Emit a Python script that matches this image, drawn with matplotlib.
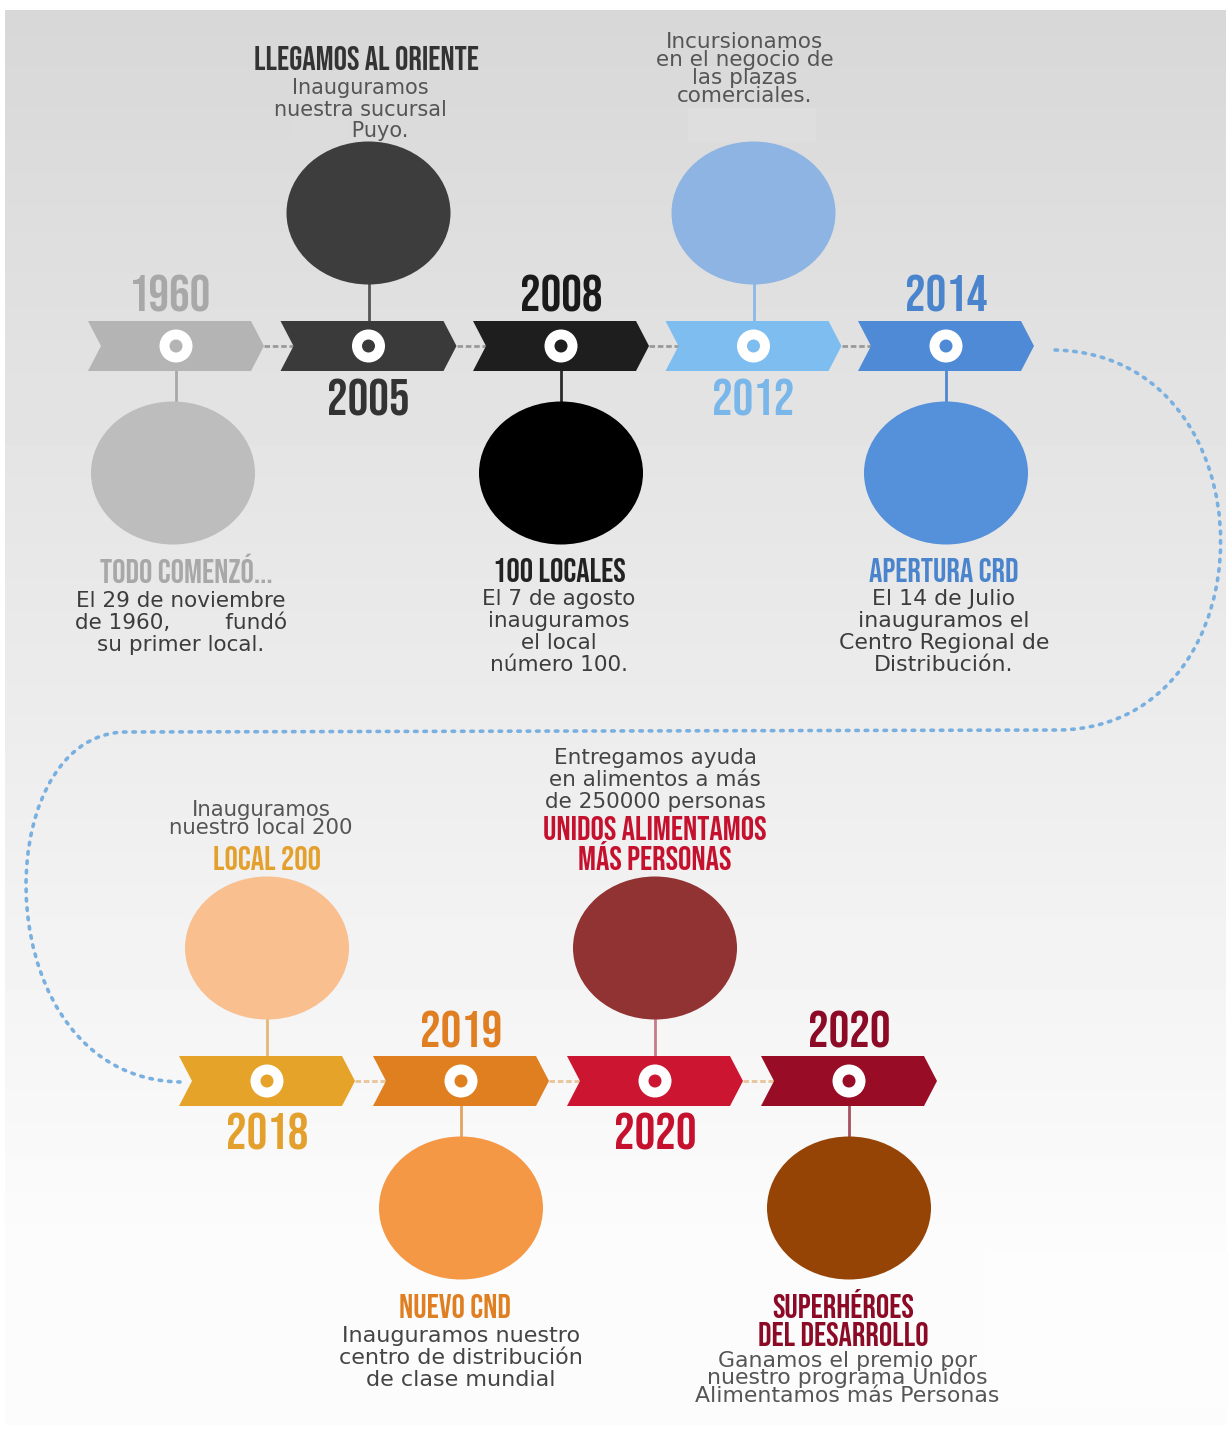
import matplotlib
matplotlib.use("Agg")
import matplotlib.pyplot as plt
import numpy as np
from matplotlib import font_manager
from matplotlib.patches import Polygon, Circle, Ellipse, Rectangle, PathPatch
from matplotlib.path import Path

# --- data -------------------------------------------------------------
row1_years = ["1960", "2005", "2008", "2012", "2014"]
row1_colors = ["#b4b4b4", "#3a3a3a", "#1e1e1e", "#7dbdf0", "#4f8ad6"]
row1_year_colors = ["#a8a8a8", "#333333", "#1a1a1a", "#79b6ea", "#4a84cc"]
row1_circle_colors = ["#bdbdbd", "#3d3d3d", "#000000", "#8db4e3", "#5590da"]
row1_stem_colors = ["#a8a8a8", "#555555", "#2a2a2a", "#8ab8e8", "#4f86cf"]
row1_up = [False, True, False, True, False]
row1_titles = ["TODO COMENZÓ...", "LLEGAMOS AL ORIENTE", "100 LOCALES", "", "APERTURA CRD"]
row1_title_colors = ["#a8a8a8", "#333333", "#222222", "#333333", "#4a84cc"]
row1_bodies = [
    "El 29 de noviembre\nde 1960,        fundó\nsu primer local.",
    "Inauguramos\nnuestra sucursal\n      Puyo.",
    "El 7 de agosto\ninauguramos\nel local\nnúmero 100.",
    "Incursionamos\nen el negocio de\nlas plazas\ncomerciales.",
    "El 14 de Julio\ninauguramos el\nCentro Regional de\nDistribución.",
]

row2_years = ["2018", "2019", "2020", "2020"]
row2_colors = ["#e6a32a", "#e07f20", "#cc1530", "#980c26"]
row2_year_colors = ["#e3a02c", "#e07e22", "#c5102e", "#8c0a26"]
row2_circle_colors = ["#f9bf8f", "#f49845", "#923333", "#964406"]
row2_stem_colors = ["#e2b87a", "#e2a460", "#c97a86", "#a85060"]
row2_up = [True, False, True, False]
row2_titles = ["LOCAL 200", "NUEVO CND", "UNIDOS ALIMENTAMOS\nMÁS PERSONAS", "SUPERHÉROES\nDEL DESARROLLO"]
row2_title_colors = ["#e3a02c", "#e07e22", "#c5102e", "#8c0a26"]
row2_bodies = [
    "Inauguramos\nnuestro local 200",
    "Inauguramos nuestro\ncentro de distribución\nde clase mundial",
    "Entregamos ayuda\nen alimentos a más\nde 250000 personas",
    "Ganamos el premio por\nnuestro programa Unidos\nAlimentamos más Personas",
]

# --- fonts ------------------------------------------------------------
available = {f.name for f in font_manager.fontManager.ttflist}
HEAD = "DejaVu Sans"
for cand in ["Bebas Neue", "Oswald", "Roboto Condensed", "Liberation Sans Narrow"]:
    if cand in available:
        HEAD = cand
        break
BODY = "DejaVu Sans"

W, H = 1229, 1432
fig = plt.figure(figsize=(W / 100, H / 100), dpi=100)
ax = fig.add_axes([0, 0, 1, 1])
ax.set_xlim(0, W)
ax.set_ylim(H, 0)
ax.axis("off")

# background gradient
grad = np.linspace(0.845, 0.985, 256)
grad = np.clip(np.concatenate([grad, np.full(40, 0.985)]), 0, 1)[:, None]
ax.imshow(np.repeat(grad, 2, axis=1), cmap="gray", vmin=0, vmax=1, aspect="auto",
          extent=[5, W - 3, 1425, 10], zorder=0)

# blanked patches
ax.add_patch(Rectangle((290, 121), 56, 20, color="#dcdcdc", lw=0, zorder=1))
ax.add_patch(Rectangle((688, 108), 128, 34, color="#dedede", lw=0, zorder=1))
ax.add_patch(Rectangle((985, 1250), 244, 158, color="#fdfdfd", lw=0, zorder=1))

# dotted connector between rows
verts = [(1055, 350), (1275, 355), (1275, 725), (1060, 730),
         (125, 732),
         (-15, 735), (-15, 1078), (180, 1082)]
codes = [Path.MOVETO, Path.CURVE4, Path.CURVE4, Path.CURVE4,
         Path.LINETO,
         Path.CURVE4, Path.CURVE4, Path.CURVE4]
ax.add_patch(PathPatch(Path(verts, codes), fill=False, ec="#79b0e0", lw=2.6,
                       ls=(0, (0.7, 1.9)), capstyle="round", zorder=2))


def chevron(cx, cy, color, w=88, h=25, tip=13):
    pts = [(cx - w, cy - h), (cx + w - tip, cy - h), (cx + w, cy),
           (cx + w - tip, cy + h), (cx - w, cy + h), (cx - w + tip, cy)]
    ax.add_patch(Polygon(pts, closed=True, color=color, lw=0, zorder=4))


def lines(x, y0, s, step, **kw):
    for k, ln in enumerate(s.split("\n")):
        ax.text(x, y0 + k * step, ln, ha="center", va="baseline", zorder=7, **kw)


def body(x, y0, s, step=22, size=15.5, color="#3c3c3c"):
    lines(x, y0, s, step, family=BODY, fontsize=size, color=color)


def head(x, y0, s, color, step=29, size=24):
    lines(x, y0, s, step, family=HEAD, fontsize=size, color=color)


def draw_row(cy, x0, step, years, colors, ycols, ccols, scols, ups, titles, tcols,
             bodies, link_color, layout):
    n = len(years)
    for i in range(n):
        cx = x0 + i * step
        if i < n - 1:
            ax.plot([cx + 88, cx + step - 88 + 13], [cy, cy], color=link_color,
                    lw=2, ls=(0, (2, 1)), zorder=3)
        chevron(cx, cy, colors[i])
        up = ups[i]
        ccy = cy - 133 if up else cy + 127
        ax.plot([cx, cx], [cy, ccy], color=scols[i], lw=2, zorder=3)
        ax.add_patch(Ellipse((cx - 3 if i == 0 and cy < 700 else cx, ccy), 164, 143,
                             color=ccols[i], lw=0, zorder=3))
        ax.add_patch(Circle((cx, cy), 16.5, color="white", lw=0, zorder=5))
        ax.add_patch(Circle((cx, cy), 6.5, color=colors[i], lw=0, zorder=6))
        yx = cx - 6 if i == 0 and cy < 700 else cx
        ax.text(yx, cy - 34 if not up else cy + 69, years[i], color=ycols[i],
                family=HEAD, fontsize=37, ha="center", va="baseline", zorder=7)
        layout(i, cx, titles[i], tcols[i], bodies[i])


def layout1(i, cx, title, tcol, txt):
    if i == 1:
        head(cx - 2, 70, title, tcol)
        body(cx - 8, 94, txt, step=21.5, size=15, color="#555555")
    elif i == 3:
        body(cx - 9, 48, txt, step=18, size=15.5, color="#555555")
    elif i == 0:
        head(cx + 10, 583, title, tcol)
        body(cx + 5, 607, txt)
    else:
        head(cx - 2, 582, title, tcol)
        body(cx - 2, 605, txt, size=15.5 if i == 2 else 15.8)


def layout2(i, cx, title, tcol, txt):
    if i == 0:
        body(cx - 6, 816, txt, step=18, size=15.3, color="#555555")
        head(cx, 870, title, tcol)
    elif i == 2:
        body(cx, 764, txt, step=22, size=15.5, color="#444444")
        head(cx, 840, title, tcol, step=30)
    elif i == 1:
        head(cx - 6, 1318, title, tcol)
        body(cx, 1342, txt, step=22, size=16, color="#444444")
    else:
        head(cx - 6, 1318, title, tcol, step=28)
        body(cx - 2, 1367, txt, step=17.5, size=15.8, color="#555555")


draw_row(346, 176, 192.5, row1_years, row1_colors, row1_year_colors,
         row1_circle_colors, row1_stem_colors, row1_up, row1_titles,
         row1_title_colors, row1_bodies, "#9a9a9a", layout1)
draw_row(1081, 267, 194, row2_years, row2_colors, row2_year_colors,
         row2_circle_colors, row2_stem_colors, row2_up, row2_titles,
         row2_title_colors, row2_bodies, "#e8c49a", layout2)

fig.savefig("out.png", dpi=100)
